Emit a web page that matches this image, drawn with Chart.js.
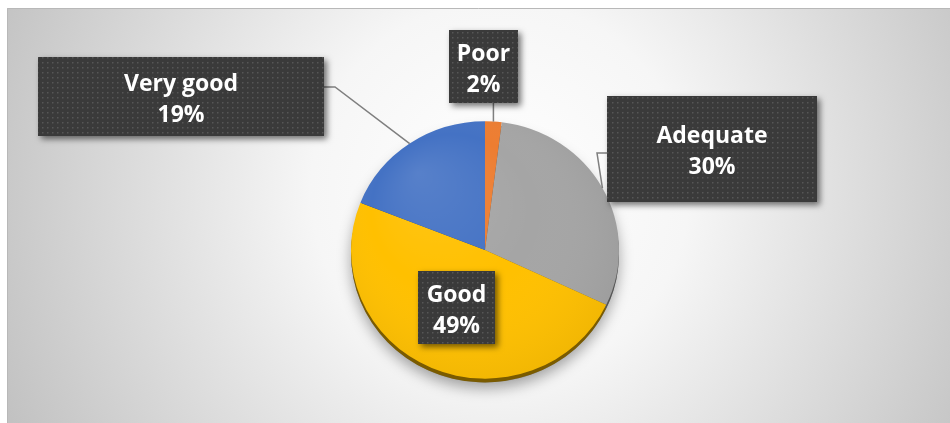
<!DOCTYPE html>
<html>
<head>
<meta charset="utf-8">
<script src="https://cdn.jsdelivr.net/npm/chart.js@4/dist/chart.umd.min.js"></script>
<style>
  html, body { margin: 0; padding: 0; background: #ffffff; }
  #ratings { display: block; }
</style>
</head>
<body>
<canvas id="ratings" width="950" height="423"></canvas>
<script>
// Survey ratings, share of answers in percent
const categories = ["Poor", "Adequate", "Good", "Very good"];
const shares = [2, 30, 49, 19];

// Office palette for the slices and the darker tone of their 3D rim
const sliceColors = ["#ED7D31", "#A5A5A5", "#FFC000", "#4472C4"];
const rimColors = ["#7a3d14", "#555555", "#7a5b00", "#223a66"];

// Callout boxes, in canvas pixels; leader: "up" runs straight to the box bottom,
// otherwise the line goes through an elbow to the box side
const callouts = [
    { x: 449, y: 30, w: 69, h: 73, leader: "up" },
    { x: 607, y: 96, w: 210, h: 106, leader: [[597, 153], [607, 153]] },
    { x: 418, y: 271, w: 77, h: 73, leader: null },
    { x: 38, y: 57, w: 286, h: 79, leader: [[335, 87], [324, 87]] },
];

const squash = 0.96; // slight perspective tilt of the pie
const rimDepth = 4;

function dotPattern(ctx) {
    const tile = document.createElement("canvas");
    tile.width = 5;
    tile.height = 5;
    const t = tile.getContext("2d");
    t.fillStyle = "#3a3a3a";
    t.fillRect(0, 0, 5, 5);
    t.fillStyle = "#565656";
    t.fillRect(2, 2, 1.5, 1.5);
    return ctx.createPattern(tile, "repeat");
}

const backdrop = {
    id: "backdrop",
    beforeDraw(chart) {
        const ctx = chart.ctx;
        ctx.save();
        ctx.fillStyle = "#ffffff";
        ctx.fillRect(0, 0, chart.width, chart.height);
        const g = ctx.createRadialGradient(500, 190, 0, 500, 190, 540);
        g.addColorStop(0, "#ffffff");
        g.addColorStop(0.35, "#f6f6f6");
        g.addColorStop(1, "#c2c2c2");
        ctx.fillStyle = g;
        ctx.fillRect(7, 8, chart.width - 7, chart.height - 8);
        ctx.strokeStyle = "#b8b8b8";
        ctx.lineWidth = 1;
        ctx.beginPath();
        ctx.moveTo(7.5, chart.height);
        ctx.lineTo(7.5, 8.5);
        ctx.lineTo(chart.width, 8.5);
        ctx.stroke();
        ctx.restore();
    },
};

// Squashes the pie a little and paints the rim and drop shadow beneath it
const tiltedPie = {
    id: "tiltedPie",
    beforeDatasetsDraw(chart) {
        const ctx = chart.ctx;
        const arcs = chart.getDatasetMeta(0).data;
        const { x, y, outerRadius } = arcs[0];
        ctx.save();
        ctx.translate(x, y);
        ctx.scale(1, squash);
        ctx.translate(-x, -y);

        ctx.save();
        ctx.shadowColor = "rgba(0,0,0,0.35)";
        ctx.shadowBlur = 14;
        ctx.shadowOffsetY = 6;
        ctx.fillStyle = "#8a8a8a";
        ctx.beginPath();
        ctx.arc(x, y + rimDepth, outerRadius, 0, Math.PI * 2);
        ctx.fill();
        ctx.restore();

        arcs.forEach((arc, i) => {
            ctx.fillStyle = rimColors[i];
            ctx.beginPath();
            ctx.moveTo(arc.x, arc.y + rimDepth);
            ctx.arc(arc.x, arc.y + rimDepth, arc.outerRadius, arc.startAngle, arc.endAngle);
            ctx.closePath();
            ctx.fill();
        });
    },
    afterDatasetsDraw(chart) {
        const ctx = chart.ctx;
        const arcs = chart.getDatasetMeta(0).data;
        // soft light from the upper left, a touch darker towards the far edge
        const { x, y, outerRadius } = arcs[0];
        const g = ctx.createRadialGradient(x - outerRadius * 0.5, y - outerRadius * 0.6, 0, x, y, outerRadius * 1.2);
        g.addColorStop(0, "rgba(255,255,255,0.10)");
        g.addColorStop(0.5, "rgba(255,255,255,0)");
        g.addColorStop(1, "rgba(0,0,0,0.08)");
        ctx.fillStyle = g;
        ctx.beginPath();
        ctx.arc(x, y, outerRadius, 0, Math.PI * 2);
        ctx.fill();
        ctx.restore();
    },
};

const calloutLabels = {
    id: "calloutLabels",
    afterDraw(chart) {
        const ctx = chart.ctx;
        const arcs = chart.getDatasetMeta(0).data;
        const values = chart.data.datasets[0].data;
        const total = values.reduce((a, b) => a + b, 0);
        const pattern = dotPattern(ctx);

        arcs.forEach((arc, i) => {
            const box = callouts[i];
            const mid = (arc.startAngle + arc.endAngle) / 2;
            const ex = arc.x + Math.cos(mid) * arc.outerRadius;
            const ey = arc.y + Math.sin(mid) * arc.outerRadius * squash;

            ctx.save();
            if (box.leader) {
                ctx.strokeStyle = "#7f7f7f";
                ctx.lineWidth = 1.5;
                ctx.beginPath();
                ctx.moveTo(ex, ey);
                if (box.leader === "up") {
                    ctx.lineTo(ex, box.y + box.h);
                } else {
                    box.leader.forEach(([px, py]) => ctx.lineTo(px, py));
                }
                ctx.stroke();
            }

            ctx.shadowColor = "rgba(0,0,0,0.55)";
            ctx.shadowBlur = 6;
            ctx.shadowOffsetX = 3;
            ctx.shadowOffsetY = 3;
            ctx.fillStyle = pattern;
            ctx.fillRect(box.x, box.y, box.w, box.h);
            ctx.restore();

            ctx.save();
            const pct = Math.round((values[i] / total) * 100) + "%";
            const cx = box.x + box.w / 2;
            const cy = box.y + box.h / 2;
            ctx.fillStyle = "#ffffff";
            ctx.font = "bold 23px 'Open Sans'";
            ctx.textAlign = "center";
            ctx.textBaseline = "alphabetic";
            ctx.fillText(chart.data.labels[i], cx, cy - 6);
            ctx.fillText(pct, cx, cy + 25);
            ctx.restore();
        });
    },
};

new Chart(document.getElementById("ratings"), {
    type: "pie",
    data: {
        labels: categories,
        datasets: [
            {
                data: shares,
                backgroundColor: sliceColors,
                borderWidth: 0,
            },
        ],
    },
    options: {
        responsive: false,
        animation: false,
        layout: {
            padding: { left: 351, right: 331, top: 116, bottom: 39 },
        },
        plugins: {
            legend: { display: false },
            tooltip: { enabled: false },
        },
    },
    plugins: [backdrop, tiltedPie, calloutLabels],
});
</script>
</body>
</html>
